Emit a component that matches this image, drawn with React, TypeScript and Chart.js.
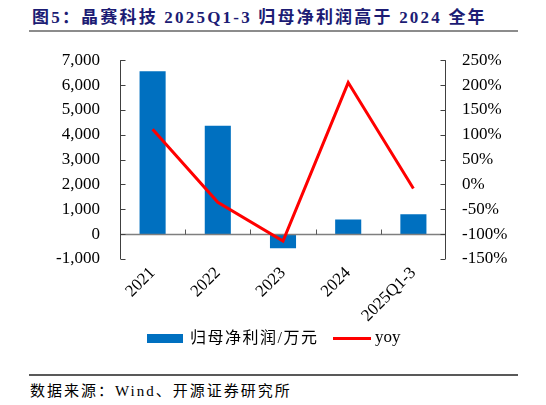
import React, { useEffect, useRef } from "react";
import { Chart, registerables } from "chart.js";

Chart.register(...registerables);

const categories = ["2021", "2022", "2023", "2024", "2025Q1-3"];
const netProfit = [6560, 4360, -570, 590, 800];
const yoy = [111, -36, -114, 205, -8];
const leftTicks = { min: -1000, max: 7000, step: 1000 };
const rightTicks = { min: -150, max: 250, step: 50 };

const SERIF = "'Liberation Serif', 'Times New Roman', 'Noto Sans CJK SC', serif";
const CJK = "'Liberation Serif', 'Noto Sans CJK SC', serif";

const axisPlugin = {
  id: "axisLines",
  afterDatasetDraw(chart: any, args: any) {
    if (args.index !== 0) return;
    const { ctx, chartArea } = chart;
    const { left, right, top, bottom } = chartArea;
    const x = chart.scales.x;
    const y = chart.scales.y;
    const y1 = chart.scales.y1;
    ctx.save();
    const zy = Math.round(y.getPixelForValue(0)) + 0.5;
    ctx.strokeStyle = "#7f7f7f";
    ctx.lineWidth = 1.5;
    ctx.beginPath();
    ctx.moveTo(left, zy);
    ctx.lineTo(right, zy);
    ctx.stroke();
    ctx.lineWidth = 1;
    ctx.strokeStyle = "#595959";
    const n = categories.length;
    for (let i = 1; i < n; i++) {
      const px = Math.round((x.getPixelForValue(i - 1) + x.getPixelForValue(i)) / 2) + 0.5;
      ctx.beginPath();
      ctx.moveTo(px, zy);
      ctx.lineTo(px, zy - 5);
      ctx.stroke();
    }
    const lx = Math.round(left) + 0.5;
    const rx = Math.round(right) - 0.5;
    ctx.strokeStyle = "#404040";
    ctx.beginPath();
    ctx.moveTo(lx, top);
    ctx.lineTo(lx, bottom);
    ctx.moveTo(rx, top);
    ctx.lineTo(rx, bottom);
    ctx.stroke();
    ctx.beginPath();
    for (let v = leftTicks.min; v <= leftTicks.max; v += leftTicks.step) {
      const py = Math.round(y.getPixelForValue(v)) + 0.5;
      ctx.moveTo(lx, py);
      ctx.lineTo(lx + 5, py);
    }
    for (let v = rightTicks.min; v <= rightTicks.max; v += rightTicks.step) {
      const py = Math.round(y1.getPixelForValue(v)) + 0.5;
      ctx.moveTo(rx, py);
      ctx.lineTo(rx - 5, py);
    }
    ctx.stroke();
    ctx.restore();
  },
};

export default function App() {
  const ref = useRef<HTMLCanvasElement | null>(null);
  useEffect(() => {
    if (!ref.current) return;
    const chart = new Chart(ref.current, {
      type: "bar",
      data: {
        labels: categories,
        datasets: [
          {
            type: "bar",
            label: "归母净利润/万元",
            data: netProfit,
            backgroundColor: "#0070C0",
            yAxisID: "y",
            categoryPercentage: 1,
            barPercentage: 0.4,
            order: 1,
          },
          {
            type: "line",
            label: "yoy",
            data: yoy,
            borderColor: "#FF0000",
            backgroundColor: "#FF0000",
            borderWidth: 3,
            pointRadius: 0,
            tension: 0,
            yAxisID: "y1",
            order: 0,
          } as any,
        ],
      },
      options: {
        animation: false,
        responsive: false,
        maintainAspectRatio: false,
        layout: { padding: { top: 0, left: 0, right: 0, bottom: 0 } },
        plugins: { legend: { display: false }, tooltip: { enabled: false } },
        scales: {
          x: {
            offset: true,
            grid: { display: false, drawTicks: false },
            border: { display: false },
            ticks: {
              autoSkip: false,
              minRotation: 45,
              maxRotation: 45,
              padding: 4,
              color: "#000",
              font: { family: SERIF, size: 17 },
            },
            afterFit(scale: any) {
              scale.height = 71;
            },
          },
          y: {
            position: "left",
            min: leftTicks.min,
            max: leftTicks.max,
            grid: { display: false, drawTicks: false },
            border: { display: false },
            ticks: {
              autoSkip: false,
              stepSize: leftTicks.step,
              padding: 20,
              color: "#000",
              font: { family: SERIF, size: 17 },
              callback: (v: any) => Number(v).toLocaleString("en-US"),
            },
            afterFit(scale: any) {
              scale.width = 120;
            },
          },
          y1: {
            position: "right",
            min: rightTicks.min,
            max: rightTicks.max,
            grid: { display: false, drawTicks: false },
            border: { display: false },
            ticks: {
              autoSkip: false,
              stepSize: rightTicks.step,
              padding: 16,
              color: "#000",
              font: { family: SERIF, size: 17 },
              callback: (v: any) => `${v}%`,
            },
            afterFit(scale: any) {
              scale.width = 100;
            },
          },
        },
      },
      plugins: [axisPlugin],
    });
    return () => chart.destroy();
  }, []);

  return (
    <div style={{ position: "absolute", left: 0, top: 0, width: 546, height: 405, background: "#fff", overflow: "hidden" }}>
      <div
        style={{
          position: "absolute",
          left: 32,
          top: 6,
          fontFamily: CJK,
          fontWeight: "bold",
          fontSize: 17,
          letterSpacing: 2.2,
          color: "#1c1c74",
          whiteSpace: "nowrap",
          lineHeight: "24px",
        }}
      >
        图5：晶赛科技 2025Q1-3 归母净利润高于 2024 全年
      </div>
      <div style={{ position: "absolute", left: 29, top: 30, width: 489, height: 2, background: "#8c8c8c" }} />
      <canvas ref={ref} width={546} height={300} style={{ position: "absolute", left: 0, top: 30, width: 546, height: 300 }} />
      <div style={{ position: "absolute", left: 147, top: 334, width: 36, height: 9, background: "#0070C0" }} />
      <div
        style={{
          position: "absolute",
          left: 190,
          top: 327,
          fontFamily: CJK,
          fontSize: 16,
          letterSpacing: 1.5,
          lineHeight: "22px",
          color: "#000",
          whiteSpace: "nowrap",
        }}
      >
        归母净利润/万元
      </div>
      <div style={{ position: "absolute", left: 333, top: 337, width: 38, height: 3, background: "#FF0000" }} />
      <div
        style={{
          position: "absolute",
          left: 375,
          top: 326,
          fontFamily: SERIF,
          fontSize: 17,
          lineHeight: "22px",
          color: "#000",
        }}
      >
        yoy
      </div>
      <div style={{ position: "absolute", left: 29, top: 374, width: 489, height: 1.5, background: "#595959" }} />
      <div
        style={{
          position: "absolute",
          left: 30,
          top: 380,
          fontFamily: CJK,
          fontSize: 15,
          letterSpacing: 2,
          lineHeight: "22px",
          color: "#000",
          whiteSpace: "nowrap",
        }}
      >
        数据来源：Wind、开源证券研究所
      </div>
    </div>
  );
}
